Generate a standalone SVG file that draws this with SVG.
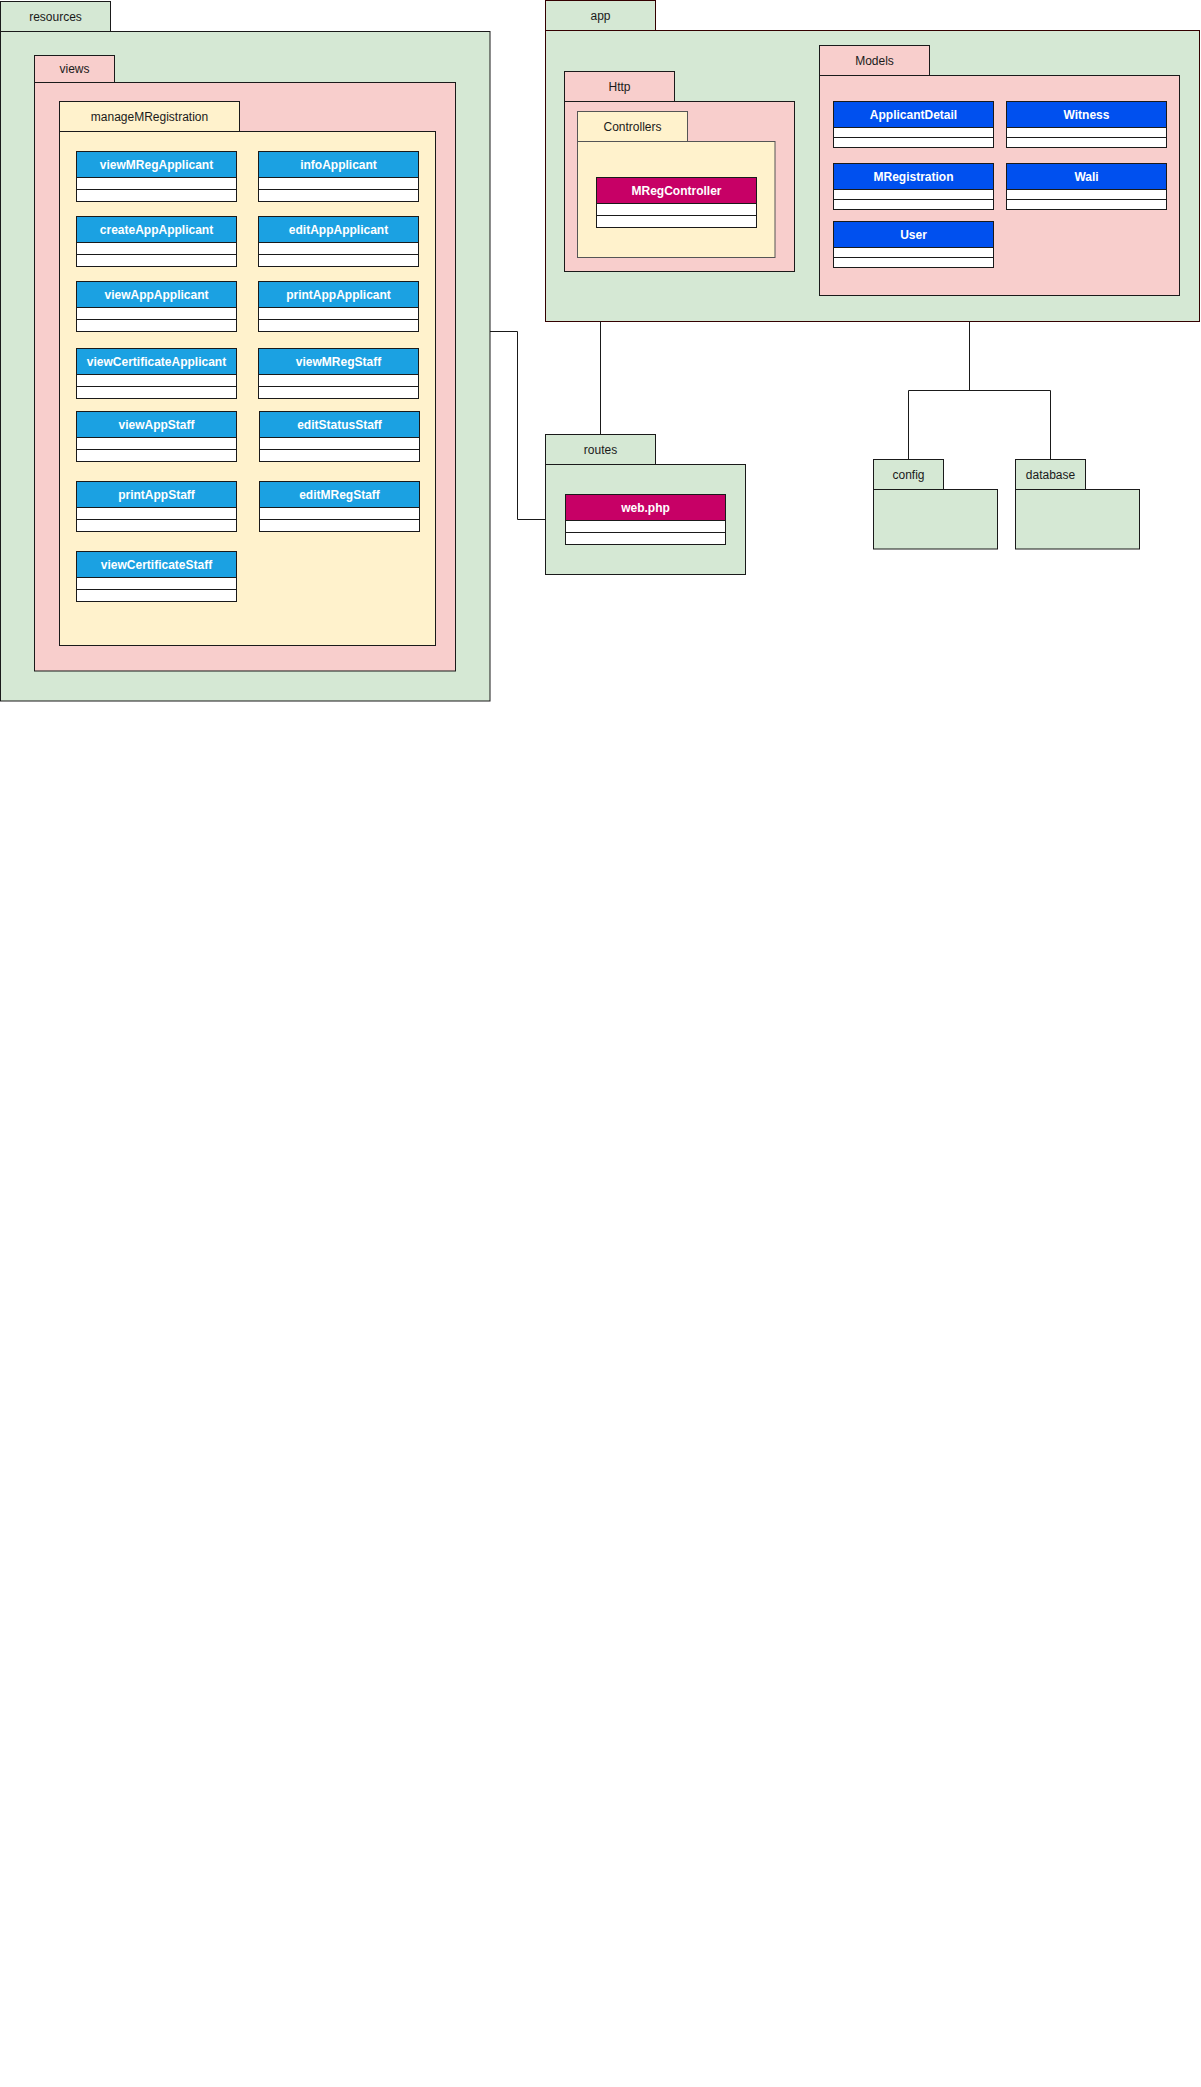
<svg xmlns="http://www.w3.org/2000/svg" width="1201" height="2087" viewBox="0 0 1201 2087">
<style>
.g{fill:#D5E8D4;stroke:#1a1a1a;stroke-width:1}
.gr{fill:#D5E8D4;stroke:#330000;stroke-width:1}
.p{fill:#F8CECC;stroke:#1a1a1a;stroke-width:1}
.y{fill:#FFF2CC;stroke:#1a1a1a;stroke-width:1}
.y2{fill:#FFF2CC;stroke:#555;stroke-width:1}
.lb{fill:#1BA1E2;stroke:#1a1a1a;stroke-width:1}
.db{fill:#0050EF;stroke:#1a1a1a;stroke-width:1}
.mg{fill:#C70066;stroke:#1a1a1a;stroke-width:1}
.w{fill:#FFFFFF;stroke:#1a1a1a;stroke-width:1}
.t{font-family:"Liberation Sans",Arial,Helvetica,sans-serif;font-size:12px;fill:#1a1a1a;text-anchor:middle}
.h{font-family:"Liberation Sans",Arial,Helvetica,sans-serif;font-size:12px;font-weight:bold;fill:#FFFFFF;text-anchor:middle}
.c{fill:none;stroke:#1a1a1a;stroke-width:1}
</style>
<rect x="0" y="0" width="1201" height="2087" fill="#FFFFFF"/>

<g id="resources">
<rect class="g" x="0.5" y="1.5" width="110" height="30"/>
<rect class="g" x="0.5" y="31.5" width="489.5" height="669.5"/>
<text class="t" x="55.5" y="20.5">resources</text>
</g>
<g id="views">
<rect class="p" x="34.5" y="55.5" width="80" height="27"/>
<rect class="p" x="34.5" y="82.5" width="421" height="588.5"/>
<text class="t" x="74.5" y="72.5">views</text>
</g>
<g id="manageMRegistration">
<rect class="y" x="59.5" y="101.5" width="180" height="30"/>
<rect class="y" x="59.5" y="131.5" width="376" height="514"/>
<text class="t" x="149.5" y="120.5">manageMRegistration</text>
</g>

<g id="viewMRegApplicant"><rect class="lb" x="76.5" y="151.5" width="160" height="26"/><rect class="w" x="76.5" y="177.5" width="160" height="12"/><rect class="w" x="76.5" y="189.5" width="160" height="12"/><text class="h" x="156.5" y="168.5">viewMRegApplicant</text></g>
<g id="infoApplicant"><rect class="lb" x="258.5" y="151.5" width="160" height="26"/><rect class="w" x="258.5" y="177.5" width="160" height="12"/><rect class="w" x="258.5" y="189.5" width="160" height="12"/><text class="h" x="338.5" y="168.5">infoApplicant</text></g>
<g id="createAppApplicant"><rect class="lb" x="76.5" y="216.5" width="160" height="26"/><rect class="w" x="76.5" y="242.5" width="160" height="12"/><rect class="w" x="76.5" y="254.5" width="160" height="12"/><text class="h" x="156.5" y="233.5">createAppApplicant</text></g>
<g id="editAppApplicant"><rect class="lb" x="258.5" y="216.5" width="160" height="26"/><rect class="w" x="258.5" y="242.5" width="160" height="12"/><rect class="w" x="258.5" y="254.5" width="160" height="12"/><text class="h" x="338.5" y="233.5">editAppApplicant</text></g>
<g id="viewAppApplicant"><rect class="lb" x="76.5" y="281.5" width="160" height="26"/><rect class="w" x="76.5" y="307.5" width="160" height="12"/><rect class="w" x="76.5" y="319.5" width="160" height="12"/><text class="h" x="156.5" y="298.5">viewAppApplicant</text></g>
<g id="printAppApplicant"><rect class="lb" x="258.5" y="281.5" width="160" height="26"/><rect class="w" x="258.5" y="307.5" width="160" height="12"/><rect class="w" x="258.5" y="319.5" width="160" height="12"/><text class="h" x="338.5" y="298.5">printAppApplicant</text></g>
<g id="viewCertificateApplicant"><rect class="lb" x="76.5" y="348.5" width="160" height="26"/><rect class="w" x="76.5" y="374.5" width="160" height="12"/><rect class="w" x="76.5" y="386.5" width="160" height="12"/><text class="h" x="156.5" y="365.5">viewCertificateApplicant</text></g>
<g id="viewMRegStaff"><rect class="lb" x="258.5" y="348.5" width="160" height="26"/><rect class="w" x="258.5" y="374.5" width="160" height="12"/><rect class="w" x="258.5" y="386.5" width="160" height="12"/><text class="h" x="338.5" y="365.5">viewMRegStaff</text></g>
<g id="viewAppStaff"><rect class="lb" x="76.5" y="411.5" width="160" height="26"/><rect class="w" x="76.5" y="437.5" width="160" height="12"/><rect class="w" x="76.5" y="449.5" width="160" height="12"/><text class="h" x="156.5" y="428.5">viewAppStaff</text></g>
<g id="editStatusStaff"><rect class="lb" x="259.5" y="411.5" width="160" height="26"/><rect class="w" x="259.5" y="437.5" width="160" height="12"/><rect class="w" x="259.5" y="449.5" width="160" height="12"/><text class="h" x="339.5" y="428.5">editStatusStaff</text></g>
<g id="printAppStaff"><rect class="lb" x="76.5" y="481.5" width="160" height="26"/><rect class="w" x="76.5" y="507.5" width="160" height="12"/><rect class="w" x="76.5" y="519.5" width="160" height="12"/><text class="h" x="156.5" y="498.5">printAppStaff</text></g>
<g id="editMRegStaff"><rect class="lb" x="259.5" y="481.5" width="160" height="26"/><rect class="w" x="259.5" y="507.5" width="160" height="12"/><rect class="w" x="259.5" y="519.5" width="160" height="12"/><text class="h" x="339.5" y="498.5">editMRegStaff</text></g>
<g id="viewCertificateStaff"><rect class="lb" x="76.5" y="551.5" width="160" height="26"/><rect class="w" x="76.5" y="577.5" width="160" height="12"/><rect class="w" x="76.5" y="589.5" width="160" height="12"/><text class="h" x="156.5" y="568.5">viewCertificateStaff</text></g>

<g id="app">
<rect class="gr" x="545.5" y="0.5" width="110" height="30"/>
<rect class="gr" x="545.5" y="30.5" width="654" height="291"/>
<text class="t" x="600.5" y="19.5">app</text>
</g>
<g id="Http">
<rect class="p" x="564.5" y="71.5" width="110" height="30"/>
<rect class="p" x="564.5" y="101.5" width="230" height="170"/>
<text class="t" x="619.5" y="90.5">Http</text>
</g>
<g id="Controllers">
<rect class="y2" x="577.5" y="111.5" width="110" height="30"/>
<rect class="y2" x="577.5" y="141.5" width="197.5" height="116"/>
<text class="t" x="632.5" y="130.5">Controllers</text>
</g>
<g id="MRegController"><rect class="mg" x="596.5" y="177.5" width="160" height="26"/><rect class="w" x="596.5" y="203.5" width="160" height="12"/><rect class="w" x="596.5" y="215.5" width="160" height="12"/><text class="h" x="676.5" y="194.5">MRegController</text></g>

<g id="Models">
<rect class="p" x="819.5" y="45.5" width="110" height="30"/>
<rect class="p" x="819.5" y="75.5" width="360" height="220"/>
<text class="t" x="874.5" y="64.5">Models</text>
</g>
<g id="ApplicantDetail"><rect class="db" x="833.5" y="101.5" width="160" height="26"/><rect class="w" x="833.5" y="127.5" width="160" height="10"/><rect class="w" x="833.5" y="137.5" width="160" height="10"/><text class="h" x="913.5" y="118.5">ApplicantDetail</text></g>
<g id="Witness"><rect class="db" x="1006.5" y="101.5" width="160" height="26"/><rect class="w" x="1006.5" y="127.5" width="160" height="10"/><rect class="w" x="1006.5" y="137.5" width="160" height="10"/><text class="h" x="1086.5" y="118.5">Witness</text></g>
<g id="MRegistration"><rect class="db" x="833.5" y="163.5" width="160" height="26"/><rect class="w" x="833.5" y="189.5" width="160" height="10"/><rect class="w" x="833.5" y="199.5" width="160" height="10"/><text class="h" x="913.5" y="180.5">MRegistration</text></g>
<g id="Wali"><rect class="db" x="1006.5" y="163.5" width="160" height="26"/><rect class="w" x="1006.5" y="189.5" width="160" height="10"/><rect class="w" x="1006.5" y="199.5" width="160" height="10"/><text class="h" x="1086.5" y="180.5">Wali</text></g>
<g id="User"><rect class="db" x="833.5" y="221.5" width="160" height="26"/><rect class="w" x="833.5" y="247.5" width="160" height="10"/><rect class="w" x="833.5" y="257.5" width="160" height="10"/><text class="h" x="913.5" y="238.5">User</text></g>

<g id="routes">
<rect class="g" x="545.5" y="434.5" width="110" height="30"/>
<rect class="g" x="545.5" y="464.5" width="200" height="110"/>
<text class="t" x="600.5" y="453.5">routes</text>
</g>
<g id="web.php"><rect class="mg" x="565.5" y="494.5" width="160" height="26"/><rect class="w" x="565.5" y="520.5" width="160" height="12"/><rect class="w" x="565.5" y="532.5" width="160" height="12"/><text class="h" x="645.5" y="511.5">web.php</text></g>

<g id="config">
<rect class="g" x="873.5" y="459.5" width="70" height="30"/>
<rect class="g" x="873.5" y="489.5" width="124" height="59.5"/>
<text class="t" x="908.5" y="478.5">config</text>
</g>
<g id="database">
<rect class="g" x="1015.5" y="459.5" width="70" height="30"/>
<rect class="g" x="1015.5" y="489.5" width="124" height="59.5"/>
<text class="t" x="1050.5" y="478.5">database</text>
</g>

<g id="connectors">
<path class="c" d="M490,331.5 H517.5 V519.5 H545.5"/>
<path class="c" d="M600.5,321.5 V434.5"/>
<path class="c" d="M969.5,321.5 V390.5 M908.5,459.5 V390.5 H1050.5 V459.5"/>
</g>
</svg>
